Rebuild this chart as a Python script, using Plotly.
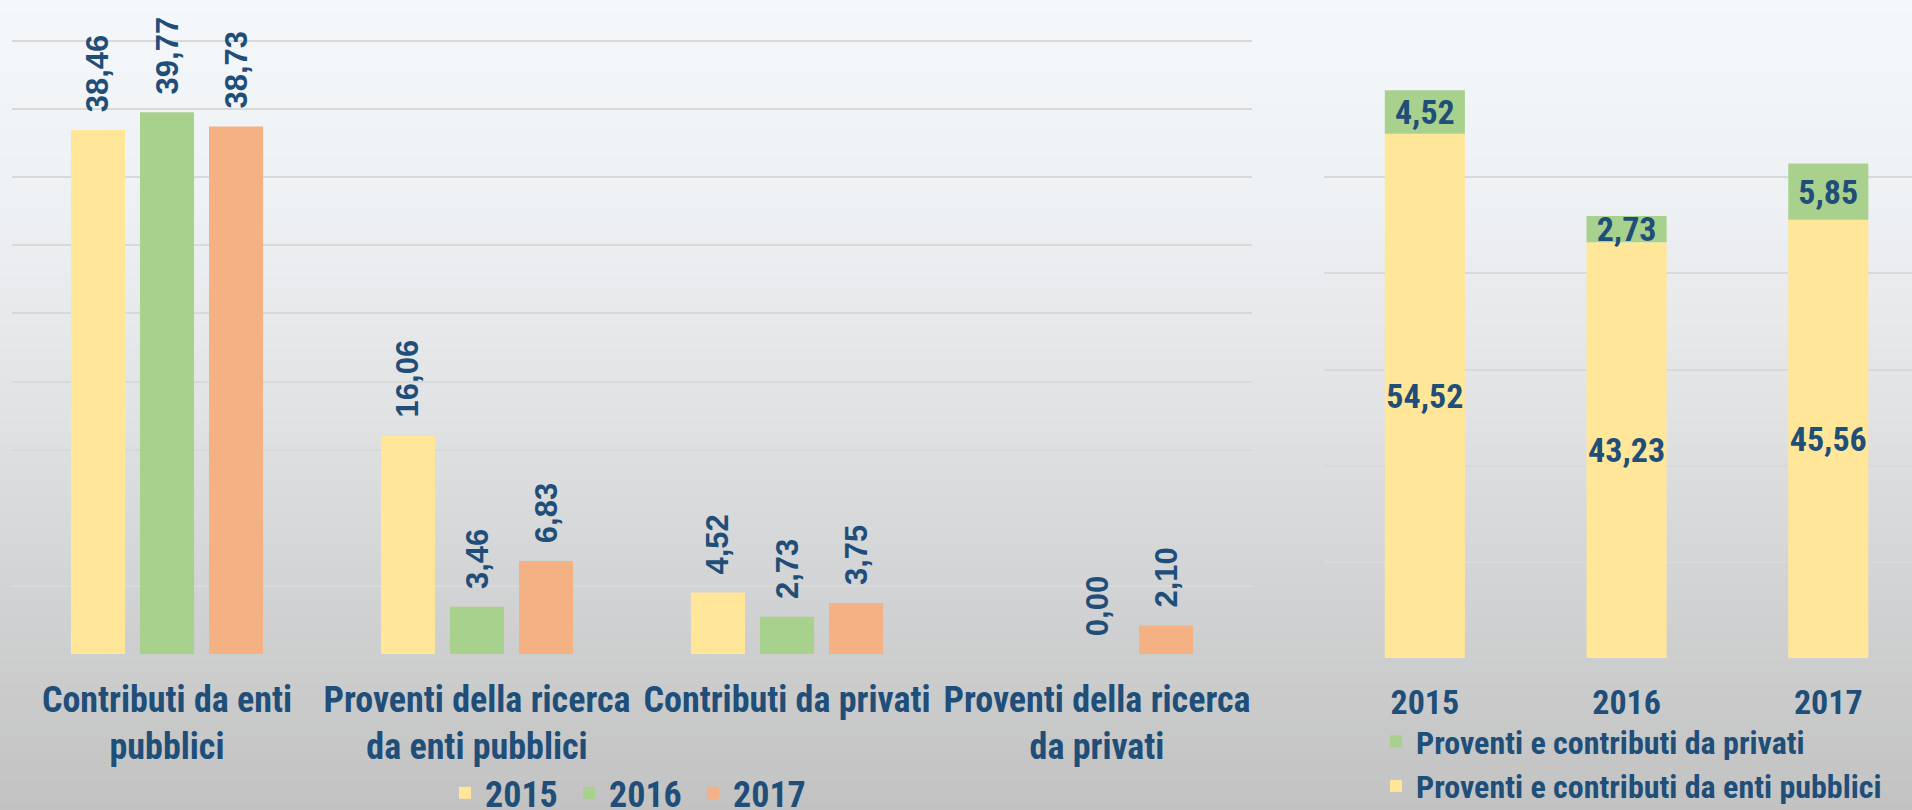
import plotly.graph_objects as go

# dati grafico a sinistra (valori per categoria)
categorie = [
    "Contributi da enti<br>pubblici",
    "Proventi della ricerca<br>da enti pubblici",
    "Contributi da privati",
    "Proventi della ricerca<br>da privati",
]
valori_2015 = [38.46, 16.06, 4.52, None]
valori_2016 = [39.77, 3.46, 2.73, 0.00]
valori_2017 = [38.73, 6.83, 3.75, 2.10]

# dati grafico a destra (totali per anno)
anni = ["2015", "2016", "2017"]
enti_pubblici = [54.52, 43.23, 45.56]
privati = [4.52, 2.73, 5.85]

GIALLO = "#FFE699"
VERDE = "#A9D18E"
ARANCIO = "#F4B183"
BLU = "#1F4E79"
NARROW = "Liberation Sans Narrow, Arial Narrow, Roboto Condensed, sans-serif"
WIDE = "Liberation Sans, Arial, sans-serif"


def fmt(v):
    if v is None:
        return ""
    return f"{v:.2f}".replace(".", ",")


fig = go.Figure()

for anno, valori, colore in [
    ("2015", valori_2015, GIALLO),
    ("2016", valori_2016, VERDE),
    ("2017", valori_2017, ARANCIO),
]:
    fig.add_bar(
        x=categorie,
        y=valori,
        name=anno,
        marker=dict(color=colore, line_width=0),
        text=[fmt(v) for v in valori],
        # spazi iniziali = distanza tra barra ed etichetta ruotata
        texttemplate="\u00a0\u2009%{text}",
        textposition="outside",
        textangle=-90,
        textfont=dict(family=WIDE, size=31, color=BLU, weight="bold"),
        constraintext="none",
        cliponaxis=False,
        legend="legend",
        xaxis="x",
        yaxis="y",
    )

for nome, valori, base, colore in [
    ("Proventi e contributi da enti pubblici", enti_pubblici, None, GIALLO),
    ("Proventi e contributi da privati", privati, enti_pubblici, VERDE),
]:
    fig.add_bar(
        x=anni,
        y=valori,
        base=base,
        name=nome,
        marker=dict(color=colore, line_width=0),
        text=[fmt(v) for v in valori],
        texttemplate="%{text}",
        textposition="inside",
        insidetextanchor="middle",
        textangle=0,
        textfont=dict(family=NARROW, size=34, color=BLU, weight="bold"),
        constraintext="none",
        cliponaxis=False,
        offsetgroup="destra",
        width=0.397,
        offset=-0.1985,
        legend="legend2",
        xaxis="x2",
        yaxis="y2",
    )

# sfondo sfumato dall'alto (azzurrino) verso il basso (grigio)
stops = [
    (0, (245, 248, 251)),
    (200, (238, 241, 244)),
    (400, (226, 227, 229)),
    (600, (209, 210, 211)),
    (810, (194, 194, 194)),
]
H = 810
step = 6
for y0 in range(0, H, step):
    ym = y0 + step / 2
    for (a, ca), (b, cb) in zip(stops[:-1], stops[1:]):
        if a <= ym <= b:
            t = (ym - a) / (b - a)
            c = [round(ca[i] + (cb[i] - ca[i]) * t) for i in range(3)]
            break
    fig.add_shape(
        type="rect",
        xref="paper",
        yref="paper",
        x0=0,
        x1=1,
        y0=max(0, 1 - (y0 + step + 1) / H),
        y1=1 - y0 / H,
        fillcolor=f"rgb({c[0]},{c[1]},{c[2]})",
        line_width=0,
        layer="below",
    )

asse_x = dict(
    showgrid=False,
    zeroline=False,
    showline=False,
    ticks="outside",
    ticklen=14,
    tickcolor="rgba(0,0,0,0)",
)
asse_y = dict(
    showticklabels=False,
    zeroline=False,
    showline=False,
    gridcolor="#D9D9D9",
    gridwidth=2,
)

# scala sinistra: 45 unita' tra y=654 e y=41 px
px_unita = (654 - 41) / 45

fig.update_layout(
    width=1912,
    height=810,
    margin=dict(l=0, r=0, t=0, b=0, autoexpand=False),
    paper_bgcolor="#C4C4C4",
    plot_bgcolor="rgba(0,0,0,0)",
    separators=",.",
    barmode="group",
    bargap=0.332,
    bargroupgap=0.217,
    xaxis=dict(
        asse_x,
        domain=[12 / 1912, 1252 / 1912],
        anchor="y",
        tickfont=dict(family=NARROW, size=36, color=BLU, weight="bold"),
    ),
    yaxis=dict(
        asse_y,
        domain=[1 - 654 / 810, 1],
        range=[0, 654 / px_unita],
        tick0=0,
        dtick=5,
        anchor="x",
    ),
    xaxis2=dict(
        asse_x,
        domain=[1324 / 1912, 1],
        anchor="y2",
        range=[-0.5, 2.415],
        tickfont=dict(family=NARROW, size=34, color=BLU, weight="bold"),
    ),
    yaxis2=dict(asse_y, domain=[1 - 658 / 810, 1 - 81 / 810], range=[0, 60], dtick=10, anchor="x2"),
    legend=dict(
        orientation="h",
        x=631 / 1912,
        xanchor="center",
        y=1 - 793 / 810,
        yanchor="middle",
        entrywidth=79,
        bgcolor="rgba(0,0,0,0)",
        font=dict(family=NARROW, size=36, color=BLU, weight="bold"),
    ),
    legend2=dict(
        orientation="v",
        traceorder="reversed",
        x=1376 / 1912,
        xanchor="left",
        y=-4 / 810,
        yanchor="bottom",
        tracegroupgap=0,
        bgcolor="rgba(0,0,0,0)",
        font=dict(family=NARROW, size=32, color=BLU, weight="bold"),
    ),
    showlegend=True,
)

fig.write_html(
    "out.html",
    config={"displayModeBar": False},
    post_script="document.body.style.margin='0';document.documentElement.style.overflow='hidden';",
)
